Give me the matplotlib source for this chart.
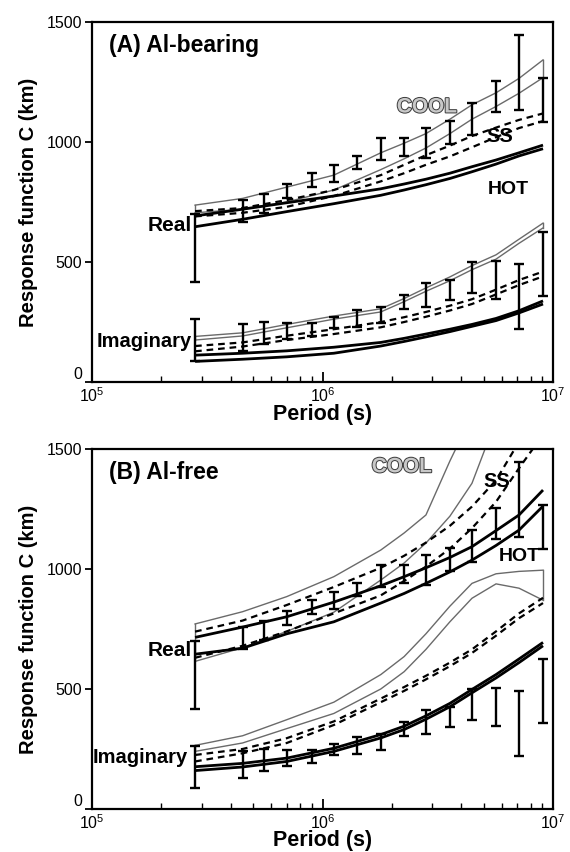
import matplotlib
matplotlib.use("Agg")
import matplotlib.pyplot as plt
import matplotlib.patheffects as pe
import numpy as np

plt.rcParams["font.family"] = ["Liberation Sans", "DejaVu Sans"]
plt.rcParams["mathtext.fontset"] = "custom"
plt.rcParams["mathtext.rm"] = "Liberation Sans"
plt.rcParams["mathtext.it"] = "Liberation Sans:italic"
plt.rcParams["mathtext.bf"] = "Liberation Sans:bold"

# observed response function (same data in both panels)
obs_period = [2.8e5, 4.5e5, 5.6e5, 7.0e5, 9.0e5, 1.12e6, 1.41e6, 1.79e6,
              2.26e6, 2.81e6, 3.57e6, 4.45e6, 5.66e6, 7.12e6, 9.05e6]
real_lo = [418, 665, 705, 765, 812, 835, 886, 925, 940, 935, 990, 1029, 1126, 1133, 1085]
real_hi = [700, 758, 785, 825, 869, 904, 942, 1015, 1015, 1060, 1089, 1164, 1255, 1446, 1268]
imag_lo = [87, 130, 160, 180, 192, 226, 231, 244, 304, 314, 342, 372, 346, 219, 360]
imag_hi = [261, 240, 251, 246, 247, 272, 300, 311, 362, 411, 425, 501, 504, 492, 626]

# model curves: each model is a pair of curves (upper / lower)
model_period = [2.8e5, 4.5e5, 7.0e5, 1.12e6, 1.79e6, 2.26e6, 2.81e6, 3.57e6,
                4.45e6, 5.66e6, 7.12e6, 9.05e6]
nan = np.nan

# (A) Al-bearing
a_cool_re_hi = [737, 765, 812, 862, 955, 995, 1035, 1095, 1155, 1205, 1265, 1342]
a_cool_re_lo = [705, 720, 750, 800, 885, 930, 975, 1035, 1095, 1148, 1203, 1268]
a_ss_re_hi = [712, 725, 758, 800, 862, 905, 945, 985, 1025, 1060, 1092, 1119]
a_ss_re_lo = [690, 705, 730, 775, 836, 870, 905, 940, 978, 1020, 1058, 1087]
a_hot_re_hi = [692, 720, 747, 775, 805, 825, 845, 870, 897, 925, 955, 987]
a_hot_re_lo = [647, 678, 710, 743, 778, 800, 822, 848, 876, 908, 942, 972]
a_cool_im_hi = [190, 205, 240, 275, 305, 348, 392, 438, 485, 530, 595, 662]
a_cool_im_lo = [175, 192, 226, 262, 292, 335, 378, 422, 468, 512, 578, 642]
a_ss_im_hi = [150, 165, 193, 220, 250, 270, 292, 318, 345, 385, 425, 460]
a_ss_im_lo = [128, 148, 175, 200, 228, 250, 272, 298, 325, 365, 404, 440]
a_hot_im_hi = [112, 120, 130, 145, 165, 182, 200, 220, 240, 265, 297, 338]
a_hot_im_lo = [86, 95, 105, 120, 150, 169, 188, 210, 232, 256, 288, 325]

# (B) Al-free
b_cool_re_hi = [771, 822, 885, 968, 1079, 1150, 1225, 1450, 1640, nan, nan, nan]
b_cool_re_lo = [615, 672, 740, 820, 954, 1025, 1108, 1220, 1357, 1620, nan, nan]
b_ss_re_hi = [739, 785, 850, 925, 1005, 1055, 1110, 1180, 1260, 1370, 1530, nan]
b_ss_re_lo = [630, 680, 740, 815, 890, 950, 1010, 1085, 1170, 1280, 1420, 1560]
b_hot_re_hi = [715, 758, 801, 862, 930, 968, 1005, 1048, 1093, 1160, 1225, 1329]
b_hot_re_lo = [645, 670, 730, 780, 858, 898, 940, 988, 1037, 1098, 1162, 1262]
b_cool_im_hi = [265, 305, 372, 445, 560, 635, 730, 845, 940, 980, 990, 995]
b_cool_im_lo = [240, 275, 335, 398, 500, 572, 665, 780, 878, 938, 920, 870]
b_ss_im_hi = [225, 250, 295, 365, 460, 508, 555, 610, 665, 740, 815, 880]
b_ss_im_lo = [198, 232, 275, 350, 445, 492, 540, 595, 650, 722, 795, 858]
b_hot_im_hi = [176, 190, 212, 253, 310, 345, 388, 440, 498, 560, 625, 694]
b_hot_im_lo = [160, 175, 198, 240, 296, 331, 374, 426, 484, 546, 610, 680]

panels = [
    {"title": "(A) Al-bearing",
     "cool": [(a_cool_re_hi, a_cool_re_lo), (a_cool_im_hi, a_cool_im_lo)],
     "ss": [(a_ss_re_hi, a_ss_re_lo), (a_ss_im_hi, a_ss_im_lo)],
     "hot": [(a_hot_re_hi, a_hot_re_lo), (a_hot_im_hi, a_hot_im_lo)],
     "labels": {"COOL": (2.84e6, 1146), "SS": (5.89e6, 1022), "HOT": (6.38e6, 804),
                "Real": (2.72e5, 654), "Imaginary": (2.72e5, 167)}},
    {"title": "(B) Al-free",
     "cool": [(b_cool_re_hi, b_cool_re_lo), (b_cool_im_hi, b_cool_im_lo)],
     "ss": [(b_ss_re_hi, b_ss_re_lo), (b_ss_im_hi, b_ss_im_lo)],
     "hot": [(b_hot_re_hi, b_hot_re_lo), (b_hot_im_hi, b_hot_im_lo)],
     "labels": {"COOL": (2.21e6, 1426), "SS": (5.71e6, 1364), "HOT": (7.12e6, 1051),
                "Real": (2.72e5, 662), "Imaginary": (2.61e5, 215)}},
]

cool_color = "#6a6a6a"

fig = plt.figure(figsize=(5.7, 8.52), dpi=100)
fig.set_facecolor("white")
ax_boxes = [[0.1614, 0.5516, 0.8088, 0.4226], [0.1614, 0.0505, 0.8088, 0.4225]]

for box, p in zip(ax_boxes, panels):
    ax = fig.add_axes(box)

    for hi, lo in p["cool"]:
        ax.plot(model_period, hi, color=cool_color, lw=1.0)
        ax.plot(model_period, lo, color=cool_color, lw=1.0)
        # end connectors of the band
        ax.plot([model_period[0]] * 2, [lo[0], hi[0]], color=cool_color, lw=1.0)
        if not np.isnan(hi[-1]):
            ax.plot([model_period[-1]] * 2, [lo[-1], hi[-1]], color=cool_color, lw=1.0)

    for hi, lo in p["ss"]:
        ax.plot(model_period, hi, color="black", lw=1.6, dashes=(3, 2.2))
        ax.plot(model_period, lo, color="black", lw=1.6, dashes=(3, 2.2))

    for hi, lo in p["hot"]:
        ax.plot(model_period, hi, color="black", lw=2.0, solid_capstyle="butt")
        ax.plot(model_period, lo, color="black", lw=2.0, solid_capstyle="butt")

    for lo, hi in [(real_lo, real_hi), (imag_lo, imag_hi)]:
        lo = np.array(lo, dtype=float)
        hi = np.array(hi, dtype=float)
        mid = (lo + hi) / 2
        ax.errorbar(obs_period, mid, yerr=[mid - lo, hi - mid], fmt="none",
                    ecolor="black", elinewidth=1.7, capsize=3.5, capthick=1.7, zorder=5)

    ax.set_xscale("log")
    ax.set_xlim(1e5, 1e7)
    ax.set_ylim(0, 1500)
    ax.set_yticks([0, 500, 1000, 1500])
    ax.tick_params(axis="y", which="major", direction="out", length=5, width=1.3,
                   labelsize=11.5, pad=2)
    ax.tick_params(axis="x", which="major", direction="in", length=7, width=1.3,
                   labelsize=11.5, pad=3)
    ax.tick_params(axis="x", which="minor", direction="in", length=4, width=1.0)
    for side in ["top", "bottom", "left", "right"]:
        ax.spines[side].set_linewidth(1.6)
    # the "0" label sits just above the corner, clear of the 10^5 label
    ax.get_yticklabels()[0].set_verticalalignment("bottom")

    ax.set_xlabel("Period (s)", fontsize=15.5, fontweight="bold", labelpad=-1)
    ax.set_ylabel("Response function C (km)", fontsize=14.5, fontweight="bold", labelpad=6)

    ax.text(0.037, 0.934, p["title"], transform=ax.transAxes, fontsize=16.5,
            fontweight="bold", ha="left", va="center")

    lab = p["labels"]
    ax.text(*lab["COOL"], "COOL", fontsize=15, fontweight="bold", color="#c8c8c8",
            ha="center", va="center",
            path_effects=[pe.withStroke(linewidth=1.4, foreground="#3a3a3a")])
    ax.text(*lab["SS"], "SS", fontsize=14.5, fontweight="bold", ha="center", va="center")
    ax.text(*lab["HOT"], "HOT", fontsize=14, fontweight="bold", ha="center", va="center")
    ax.text(*lab["Real"], "Real", fontsize=15, fontweight="bold", ha="right", va="center")
    ax.text(*lab["Imaginary"], "Imaginary", fontsize=14.5, fontweight="bold",
            ha="right", va="center")

fig.savefig("out.png", dpi=100, facecolor="white")
